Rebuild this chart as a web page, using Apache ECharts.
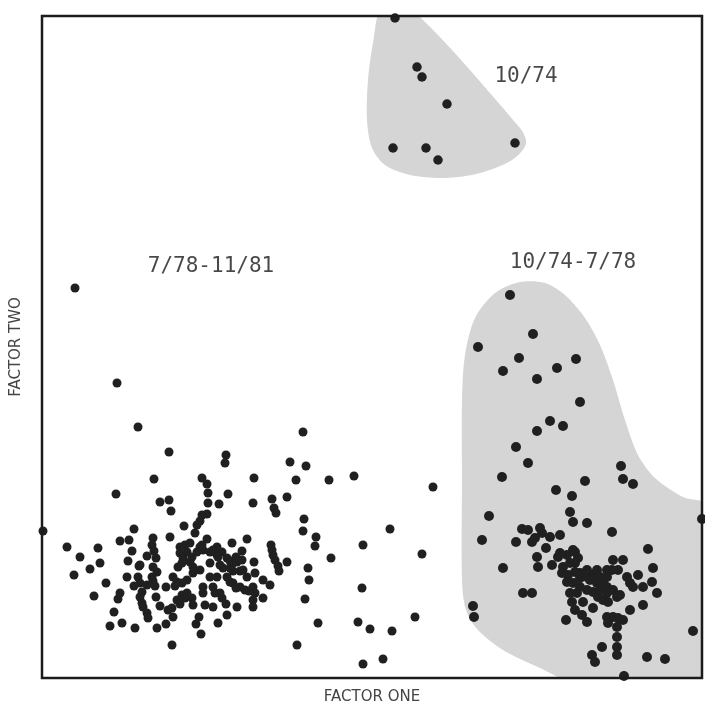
<!DOCTYPE html>
<html><head><meta charset="utf-8">
<script src="https://cdn.jsdelivr.net/npm/echarts@6/dist/echarts.min.js"></script>
<style>html,body{margin:0;padding:0;background:#fff}#c{width:705px;height:714px}</style>
</head><body><div id="c"></div>
<script>
// Factor scores (arbitrary units): [factor one, factor two]
const period1074 = [[353,660],[375,611],[380,601],[405,574],[351,530],[384,530],[396,518],[473,535]];

const period7478 = [
[468,383],[491,344],[436,331],[477,320],[461,307],[515,310],[534,319],[495,299],[538,276],[508,257],[521,252],[495,247],[474,231],[486,215],[579,212],[460,201],[543,197],[581,199],[591,194],[514,188],[530,182],[447,162],[528,166],[531,156],[545,155],[660,159],[570,146],[480,149],[486,148],[498,150],[500,145],[440,138],[474,136],[490,136],[493,140],[508,141],[518,143],[504,130],[606,129],[495,121],[496,111],[461,110],[510,113],[516,121],[525,123],[533,126],[536,120],
[521,111],[528,115],[533,115],[520,105],[526,103],[533,106],[525,96],[531,95],[538,100],[545,101],[548,98],[551,103],[558,101],[555,95],[561,95],[565,91],[558,88],[551,86],[545,88],[538,91],[535,85],[528,85],[565,85],[571,88],[575,81],[578,83],[570,108],[576,108],[581,118],[571,118],[565,108],[585,101],[588,95],[591,91],[556,81],[561,78],[566,76],[518,125],[531,128],[565,101],[555,108],[545,108],[538,105],
[596,103],[611,110],[601,91],[610,96],[615,85],[601,73],[588,68],[481,85],[490,85],[431,72],[432,61],[541,76],[551,70],[530,76],[533,68],[540,63],[545,56],[524,58],[565,61],[566,55],[571,61],[576,60],[581,58],[575,51],[575,41],[575,31],[575,23],[560,31],[550,23],[553,16],[605,21],[623,19],[651,47],[582,2]
];

const period7881 = [
[33,390],[75,295],[96,251],[127,226],[184,223],[183,215],[261,246],[248,216],[264,212],[112,199],[160,200],[212,200],[254,198],[287,198],[312,202],[1,147],[165,194],[166,185],[186,184],[74,184],[118,176],[127,178],[129,167],[166,175],[177,174],[160,163],[165,164],[155,153],[158,157],[153,145],[142,152],[92,149],[78,137],[87,138],[25,131],[56,130],[38,121],[58,115],[48,109],[32,103],[90,127],[86,117],[97,112],[85,101],[96,101],[64,95],[92,92],[52,82],[78,85],[76,79],[72,66],[68,52],[80,55],[93,50],[130,33],[115,50],[124,54],[159,44],[154,54],[157,61],[176,55],[185,63],
[111,140],[110,133],[112,127],[128,141],[138,131],[143,133],[148,135],[165,139],[175,131],[190,135],[205,139],[200,127],[212,116],[213,105],[229,133],[230,128],[231,123],[233,118],[236,112],[237,107],[245,116],[105,122],[114,120],[111,111],[115,106],[98,113],[98,95],[110,101],[111,97],[113,92],[105,93],[100,86],[98,81],[100,75],[114,81],[118,72],[101,71],[105,65],[106,60],[124,91],[131,101],[135,96],[133,92],[140,95],[126,68],[130,70],[131,61],[140,83],[143,80],[145,85],[150,80],[135,78],[138,74],[151,73],[161,91],[161,85],[171,91],[173,85],[163,73],[171,71],[178,85],[180,80],[184,74],[195,71],[191,95],[194,90],[198,91],[203,88],[207,87],[211,91],[213,85],[211,78],[211,71],[221,80],[221,98],[228,93],[201,108],[188,110],[191,107],[185,101],[191,115],[175,101],[168,101],[178,113],[181,110],[168,115],[158,108],[151,105],[148,116],[151,111],[150,121],[138,125],[141,120],[145,126],[155,126],[158,131],[161,128],[171,128],[175,123],[180,126],[185,120],[188,117],[194,121],[195,116],[200,118],[136,111],[140,115],[145,98],[160,133],[168,126],[176,121],[198,107],[188,96],[205,101],
[391,191],[211,175],[230,179],[245,181],[232,170],[234,165],[262,159],[261,147],[274,141],[273,132],[348,149],[321,133],[380,124],[289,120],[266,110],[267,98],[320,90],[263,79],[373,61],[276,55],[316,56],[328,49],[350,47],[255,33],[341,19],[321,14]
];

// Shaded period envelopes (outline in the same factor units)
const envelope1074 = [[340,672],[366,672],[478,550],[484,534],[470,518],[438,505],[403,500],[368,503],[343,513],[330,530],[325,558],[326,598],[331,635]];
const envelope7478 = [[420,198],[420,278],[423,323],[433,360],[453,385],[478,396],[503,395],[523,383],[543,360],[558,333],[571,298],[583,258],[596,223],[613,200],[641,181],[668,172],[674,80],[672,-12],[540,-8],[498,10],[461,28],[436,48],[424,68],[420,98]];

const periodNames = ['10/74', '7/78-11/81', '10/74-7/78'];
const periodLabelAt = [[484,601],[169,411],[531,415]];

const envelopes = [envelope1074, envelope7478];

const chart = echarts.init(document.getElementById('c'), null, {renderer: 'canvas'});
const dotStyle = {color: '#202020', opacity: 1};
chart.setOption({
  animation: false,
  backgroundColor: '#ffffff',
  grid: {left: 42, right: 3, top: 16, bottom: 36, show: true, borderColor: '#1c1c1c', borderWidth: 2.5, backgroundColor: 'transparent', z: 10},
  xAxis: {
    type: 'value', min: 0, max: 660,
    axisLine: {show: false}, axisTick: {show: false}, axisLabel: {show: false}, splitLine: {show: false},
    name: 'FACTOR ONE', nameLocation: 'middle', nameGap: 12,
    nameTextStyle: {fontFamily: 'DejaVu Sans', fontSize: 15, color: '#444444', verticalAlign: 'top'}
  },
  yAxis: {
    type: 'value', min: 0, max: 662,
    axisLine: {show: false}, axisTick: {show: false}, axisLabel: {show: false}, splitLine: {show: false},
    name: 'FACTOR TWO', nameLocation: 'middle', nameGap: 18, nameRotate: 90,
    nameTextStyle: {fontFamily: 'DejaVu Sans', fontSize: 15, color: '#444444'}
  },
  series: [
    {
      type: 'custom', z: 1, clip: true, silent: true,
      data: envelopes.map((e, i) => [i, 0]),
      renderItem: function (params, api) {
        const pts = envelopes[params.dataIndex].map(p => api.coord(p));
        return {type: 'polygon', shape: {points: pts, smooth: 0.3}, style: {fill: '#d5d5d5'}};
      }
    },
    {type: 'scatter', z: 3, clip: false, symbolSize: 9.5, itemStyle: dotStyle, data: period1074},
    {type: 'scatter', z: 3, clip: false, symbolSize: 10, itemStyle: dotStyle, data: period7478},
    {type: 'scatter', z: 3, clip: false, symbolSize: 9, itemStyle: dotStyle, data: period7881},
    {
      type: 'scatter', z: 4, symbolSize: 1, itemStyle: {color: 'rgba(0,0,0,0)'},
      data: periodNames.map((n, i) => ({name: n, value: periodLabelAt[i]})),
      label: {show: true, position: 'inside', formatter: '{b}', fontFamily: 'DejaVu Sans Mono', fontSize: 21, color: '#1a1a1a'}
    }
  ]
});
</script></body></html>
